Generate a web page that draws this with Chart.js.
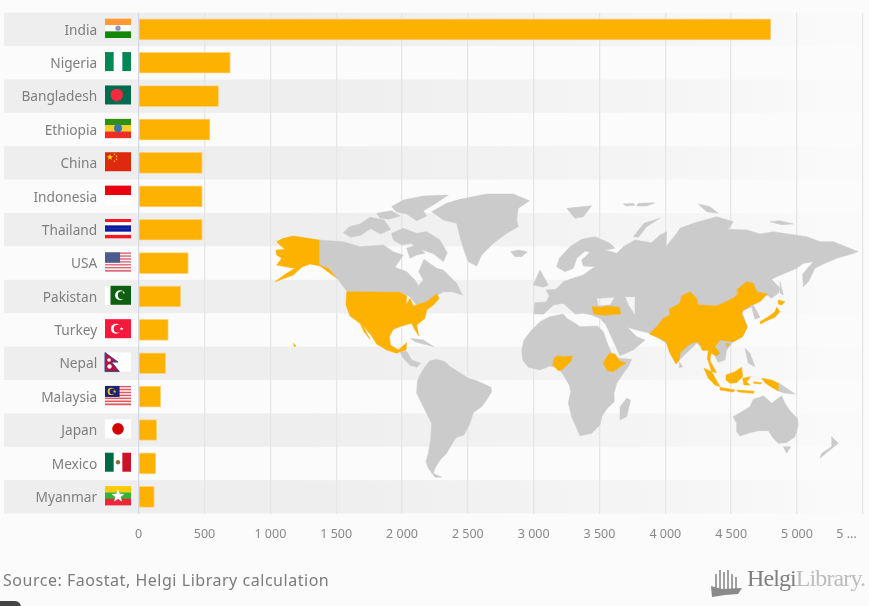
<!DOCTYPE html>
<html>
<head>
<meta charset="utf-8">
<title>Source: Faostat, Helgi Library calculation</title>
<script src="https://cdn.jsdelivr.net/npm/chart.js@4"></script>
<style>
  html, body { margin: 0; padding: 0; background: #fbfbfb; }
  #wrap { position: relative; width: 869px; height: 606px; overflow: hidden; filter: blur(0.45px); }
  #grafico { position: absolute; left: 0; top: 0; }
  #mapa { position: absolute; left: 0; top: 0; pointer-events: none; }
  #fuente { position: absolute; left: 3px; top: 569px; font: 16px "Noto Sans", sans-serif; color: #7b7b7b; letter-spacing: 0.53px; white-space: nowrap; }
  #logo { position: absolute; left: 747px; top: 565px; font: 24px "Liberation Serif", serif; color: #808080; letter-spacing: -0.9px; white-space: nowrap; }
  #logo span { color: #bdbdbd; }
  #esquina { position: absolute; left: 0; top: 601px; width: 21px; height: 8px; background: #444; border-top-right-radius: 6px; }
</style>
</head>
<body>
<div id="wrap">
  <canvas id="grafico" width="869" height="606"></canvas>

  <!-- mapa de fondo, decorativo: trazado a mano, no lleva datos -->
  <svg id="mapa" width="869" height="606" viewBox="0 0 869 606">
    <g transform="translate(260 190) scale(.3333)" stroke-width="1.5" stroke-linejoin="round">
      <g fill="#cbcbcb" stroke="#cbcbcb">
        <path d="M515 65L560 40 600 28 680 12 760 12 808 32 775 55 770 90 775 110 740 130 700 160 665 195 650 228 625 215 610 175 600 140 590 100 550 90Z"/>
        <path d="M395 50L430 30 490 18 565 15 520 45 490 62 500 78 470 92 440 72 410 66Z"/>
        <path d="M250 128L268 110 300 102 330 82 372 90 392 118 362 132 332 116 302 136 272 142Z"/>
        <path d="M350 70L395 62 420 78 385 88 360 84Z"/>
        <path d="M395 130L430 115 470 130 500 125 540 150 562 188 550 215 522 192 482 178 452 160 425 165 400 150Z"/>
        <path d="M440 175L470 165 495 190 470 195 450 205Z"/>
        <path d="M178 150L250 155 300 170 330 168 370 165 400 185 430 195 405 232 440 245 465 270 475 288 490 270 476 245 492 208 530 235 550 240 575 265 590 280 607 315 577 305 550 305 532 315 500 340 470 345 450 320 420 307 262 305 235 270 205 235 178 225Z"/>
        <path d="M420 486L440 484 455 510 482 520 470 532 450 526 430 505Z"/>
        <path d="M452 445L490 450 522 470 490 462 465 455Z"/>
        <path d="M472 575L480 555 495 530 510 512 530 508 555 515 570 530 600 548 625 565 650 572 693 592 695 605 680 630 665 650 640 668 630 700 612 735 590 742 580 755 560 790 540 810 525 835 520 850 545 862 525 862 505 835 498 815 505 790 512 750 515 700 490 650 470 610Z"/>
        <path d="M752 185L775 180 802 185 785 200 765 200Z"/>
      </g>
      <g fill="#fdb100" stroke="#fdb100">
        <path d="M50 155L70 145 100 138 178 150 178 225 205 235 230 264 210 250 180 228 150 222 125 232 100 255 60 270 45 275 80 250 105 235 65 228 50 225 65 205 50 195 48 180 75 178 60 165Z"/>
        <path d="M260 305L420 307 440 318 438 346 450 325 460 348 500 335 530 312 538 325 520 345 500 360 495 385 470 405 476 437 465 420 455 400 425 408 400 418 388 440 392 465 415 480 440 458 438 480 420 485 410 490 380 480 350 462 335 438 308 405 330 448 312 425 300 400 270 378 258 345Z"/>
        <path d="M100 460L108 468 103 470Z"/>
      </g>
    </g>
    <g transform="translate(520 190) scale(.3333)" stroke-width="1.5" stroke-linejoin="round">
      <g fill="#cbcbcb" stroke="#cbcbcb">
        <path d="M5 480L12 450 35 420 60 395 90 380 130 372 140 385 165 400 180 410 232 408 250 425 262 460 275 490 295 505 335 508 325 530 310 550 290 580 282 610 283 635 262 655 245 680 240 705 215 730 180 738 170 715 155 680 145 640 152 605 148 585 130 555 115 535 90 528 60 540 25 532 8 510Z"/>
        <path d="M320 625L332 630 320 680 300 690 300 650Z"/>
        <path fill-rule="evenodd" d="M42 372L44 338 78 336 88 318 78 300 108 298 130 275 150 268 190 255 210 240 225 230 190 228 185 210 210 187 195 183 170 205 160 235 135 245 110 230 118 205 150 170 185 148 225 140 270 160 285 175 255 180 290 190 310 170 345 150 395 158 420 135 440 125 438 170 470 130 480 115 520 100 590 80 640 95 625 118 680 120 720 132 760 125 790 130 860 140 900 155 940 155 1015 185 985 195 950 205 910 222 885 235 865 275 850 290 848 252 880 215 850 220 830 235 770 260 755 268 780 295 775 310 755 325 740 315 700 345 720 382 705 388 695 350 665 365 682 410 668 440 640 455 620 480 615 510 595 517 580 490 560 480 530 460 478 510 468 522 440 460 390 430 350 420 322 412 350 440 375 450 340 480 300 497 258 405 240 385 215 375 190 370 165 372 130 340 100 345 72 372ZM230 325L285 322 270 345 235 348ZM315 320L345 320 345 375 325 345Z"/>
        <path d="M40 285L60 240 85 285 70 292Z"/>
        <path d="M780 275L790 315 780 310Z"/>
        <path d="M140 55L215 47 190 80 165 85Z"/>
        <path d="M340 140L372 100 420 85 380 110 355 142Z"/>
        <path d="M310 42L340 40 345 46 318 48Z"/>
        <path d="M355 40L405 38 380 48 350 48Z"/>
        <path d="M535 42L570 50 595 70 560 65Z"/>
        <path d="M750 95L780 92 820 102 785 104Z"/>
        <path d="M478 515L488 530 478 533Z"/>
        <path d="M675 475L690 490 705 530 685 520Z"/>
        <path d="M775 578L800 595 825 612 795 610 775 603Z"/>
        <path d="M640 680L665 665 690 650 700 628 730 618 745 630 755 640 775 625 785 618 795 640 810 662 832 685 835 705 825 740 800 758 775 760 760 745 745 722 715 722 690 728 660 738 650 725 650 700Z"/>
        <path d="M790 770L812 770 800 790Z"/>
        <path d="M935 740L955 760 930 780 900 805 905 790 935 770Z"/>
      </g>
      <g fill="#fdb100" stroke="#fdb100">
        <path d="M388 432L415 405 430 385 450 375 448 358 480 340 485 318 510 305 530 325 535 345 590 348 640 325 655 310 650 300 680 275 700 280 710 305 742 312 720 335 695 345 670 360 665 372 682 410 668 440 640 455 600 450 585 470 600 490 590 497 573 490 570 512 590 548 575 545 562 505 565 480 548 482 535 455 520 458 505 465 480 490 478 510 468 522 450 490 438 455 420 445 400 437Z"/>
        <path d="M216 350L245 352 260 348 298 352 302 372 250 376 222 372Z"/>
        <path d="M770 352L780 365 765 382 740 392 722 402 720 395 745 380 765 365Z"/>
        <path d="M775 330L795 335 785 345 775 342Z"/>
        <path d="M98 525L102 505 112 497 132 500 157 498 152 515 138 528 125 540 114 542 105 530Z"/>
        <path d="M250 520L258 505 268 490 285 492 298 512 318 520 300 530 280 545 262 542Z"/>
        <path d="M552 535L575 545 600 590 585 585 565 565Z"/>
        <path d="M600 592L645 600 640 606 600 600Z"/>
        <path d="M650 600L703 604 700 610 655 606Z"/>
        <path d="M618 555L645 545 665 532 668 560 650 578 630 580 618 570Z"/>
        <path d="M668 565L692 560 680 575 690 585 672 585Z"/>
        <path d="M725 565L755 570 775 580 775 603 755 592 735 578Z"/>
        <path d="M700 575L725 578 722 582 702 580Z"/>
        <path d="M618 460L628 462 622 472Z"/>
      </g>
    </g>
    <!-- icono del logo -->
    <g stroke="#8a8a8a" stroke-width="1.6" fill="none">
      <path d="M716 574V589M720 570V589M724 572V589M728 570V589M732 574V589M736 577V589"/>
    </g>
    <path d="M711 586L722 589 742 588 738 594 725 595 712 597Z" fill="#8a8a8a"/>
  </svg>

  <div id="fuente">Source: Faostat, Helgi Library calculation</div>
  <div id="logo">Helgi<span>Library.</span></div>
  <div id="esquina"></div>
</div>

<script>
// Datos
const countries = ['India', 'Nigeria', 'Bangladesh', 'Ethiopia', 'China', 'Indonesia', 'Thailand', 'USA', 'Pakistan', 'Turkey', 'Nepal', 'Malaysia', 'Japan', 'Mexico', 'Myanmar'];
const values = [4802, 696, 607, 541, 483, 483, 483, 377, 319, 225, 205, 167, 137, 129, 119];
const xTickLabels = ['0', '500', '1 000', '1 500', '2 000', '2 500', '3 000', '3 500', '4 000', '4 500', '5 000', '5 ...          '];

// Helpers de dibujo para las banderas
function franjas(ctx, x, y, w, h, colores) {
    const alto = h / colores.length;
    colores.forEach((c, i) => {
        ctx.fillStyle = c;
        ctx.fillRect(x, y + i * alto, w, alto + 0.3);
    });
}
function circulo(ctx, cx, cy, r, color) {
    ctx.fillStyle = color;
    ctx.beginPath();
    ctx.arc(cx, cy, r, 0, Math.PI * 2);
    ctx.fill();
}
function estrella(ctx, cx, cy, r, color) {
    ctx.fillStyle = color;
    ctx.beginPath();
    for (let i = 0; i < 10; i++) {
        const rad = i % 2 ? r * 0.42 : r;
        const ang = -Math.PI / 2 + i * Math.PI / 5;
        ctx.lineTo(cx + Math.cos(ang) * rad, cy + Math.sin(ang) * rad);
    }
    ctx.closePath();
    ctx.fill();
}
function media(ctx, cx, cy, r, bg, color) {
    circulo(ctx, cx, cy, r, color);
    circulo(ctx, cx + r * 0.35, cy, r * 0.8, bg);
}

const pintaBandera = {
    India(c, x, y, w, h) {
        franjas(c, x, y, w, h, ['#ff9933', '#ffffff', '#138808']);
        circulo(c, x + w / 2, y + h / 2, 2.6, '#8d8fcf');
    },
    Nigeria(c, x, y, w, h) {
        c.fillStyle = '#ffffff'; c.fillRect(x, y, w, h);
        c.fillStyle = '#008753';
        c.fillRect(x, y, w / 3, h);
        c.fillRect(x + 2 * w / 3, y, w / 3, h);
    },
    Bangladesh(c, x, y, w, h) {
        c.fillStyle = '#006a4e'; c.fillRect(x, y, w, h);
        circulo(c, x + w * 0.45, y + h / 2, 6.2, '#f42a41');
    },
    Ethiopia(c, x, y, w, h) {
        franjas(c, x, y, w, h, ['#2f8f17', '#f7d02c', '#ee2d24']);
        circulo(c, x + w / 2, y + h / 2, 4, '#3a78a8');
    },
    China(c, x, y, w, h) {
        c.fillStyle = '#de2910'; c.fillRect(x, y, w, h);
        estrella(c, x + 5, y + 5, 3.2, '#ffde00');
        [[9.5, 2], [11.5, 4], [11.5, 7], [9.5, 9]].forEach(p => estrella(c, x + p[0], y + p[1], 1.1, '#ffde00'));
    },
    Indonesia(c, x, y, w, h) {
        franjas(c, x, y, w, h, ['#e8000f', '#ffffff']);
    },
    Thailand(c, x, y, w, h) {
        franjas(c, x, y, w, h, ['#ed1c24', '#ffffff', '#0c1c9c', '#0c1c9c', '#ffffff', '#ed1c24']);
    },
    USA(c, x, y, w, h) {
        const rayas = [];
        for (let i = 0; i < 13; i++) rayas.push(i % 2 ? '#fbf4f4' : '#d96a78');
        franjas(c, x, y, w, h, rayas);
        c.fillStyle = '#4b5c8f'; c.fillRect(x, y, w * 0.58, h * 0.54);
    },
    Pakistan(c, x, y, w, h) {
        c.fillStyle = '#ffffff'; c.fillRect(x, y, w, h);
        c.fillStyle = '#0f5f10'; c.fillRect(x + w / 4 - 1, y, w * 0.75 + 1, h);
        media(c, x + w * 0.58, y + h / 2, 5, '#0f5f10', '#ffffff');
        estrella(c, x + w * 0.72, y + h * 0.36, 1.4, '#ffffff');
    },
    Turkey(c, x, y, w, h) {
        c.fillStyle = '#f7183c'; c.fillRect(x, y, w, h);
        media(c, x + w * 0.42, y + h / 2, 5, '#f7183c', '#ffffff');
        estrella(c, x + w * 0.64, y + h / 2, 2, '#ffffff');
    },
    Nepal(c, x, y, w, h) {
        c.fillStyle = '#ffffff'; c.fillRect(x, y, w, h);
        c.fillStyle = '#b0123b';
        c.strokeStyle = '#3a4a90';
        c.lineWidth = 1;
        c.beginPath();
        c.moveTo(x, y);
        c.lineTo(x + w * 0.5, y + h * 0.5);
        c.lineTo(x + w * 0.25, y + h * 0.5);
        c.lineTo(x + w * 0.55, y + h);
        c.lineTo(x, y + h);
        c.closePath();
        c.fill();
        c.stroke();
        circulo(c, x + 4, y + 7.5, 1.8, '#ffffff');
        circulo(c, x + 4.5, y + 14, 2.2, '#ffffff');
    },
    Malaysia(c, x, y, w, h) {
        const rayas = [];
        for (let i = 0; i < 13; i++) rayas.push(i % 2 ? '#fbecec' : '#e2545e');
        franjas(c, x, y, w, h, rayas);
        c.fillStyle = '#1a2375'; c.fillRect(x, y, w * 0.56, h * 0.58);
        media(c, x + w * 0.24, y + h * 0.29, 3.6, '#1a2375', '#f5c518');
        estrella(c, x + w * 0.37, y + h * 0.29, 1.8, '#f5c518');
    },
    Japan(c, x, y, w, h) {
        c.fillStyle = '#ffffff'; c.fillRect(x, y, w, h);
        circulo(c, x + w / 2, y + h / 2, 5.8, '#d30000');
    },
    Mexico(c, x, y, w, h) {
        c.fillStyle = '#ffffff'; c.fillRect(x, y, w, h);
        c.fillStyle = '#006847'; c.fillRect(x, y, w / 3, h);
        c.fillStyle = '#ce1126'; c.fillRect(x + 2 * w / 3, y, w / 3, h);
        circulo(c, x + w / 2, y + h / 2, 2.2, '#8a6a3a');
    },
    Myanmar(c, x, y, w, h) {
        franjas(c, x, y, w, h, ['#fecb00', '#34b233', '#ea2839']);
        estrella(c, x + w / 2, y + h / 2 + 0.5, 6.8, '#ffffff');
    }
};

// Bandas alternas de fondo, se apagan hacia la derecha
const bandasPlugin = {
    id: 'bandas',
    beforeDraw(chart) {
        const { ctx, scales: { y } } = chart;
        const paso = y.getPixelForValue(1) - y.getPixelForValue(0);
        const grad = ctx.createLinearGradient(300, 0, 840, 0);
        grad.addColorStop(0, '#eeeeee');
        grad.addColorStop(0.4, '#f2f2f2');
        grad.addColorStop(0.75, '#f6f6f6');
        grad.addColorStop(1, '#fafafa');
        ctx.save();
        ctx.fillStyle = grad;
        countries.forEach((c, i) => {
            if (i % 2 === 0) ctx.fillRect(4, y.getPixelForValue(i) - paso / 2, 859, paso);
        });
        ctx.restore();
    }
};

// Banderas junto a cada etiqueta
const banderasPlugin = {
    id: 'banderas',
    afterDatasetsDraw(chart) {
        const { ctx, scales: { y } } = chart;
        countries.forEach((c, i) => {
            ctx.save();
            pintaBandera[c](ctx, 105, y.getPixelForValue(i) - 10.7, 26, 19);
            ctx.restore();
        });
    }
};

const ctx = document.getElementById('grafico').getContext('2d');
new Chart(ctx, {
    type: 'bar',
    data: {
        labels: countries,
        datasets: [{
            data: values,
            backgroundColor: '#fdb100',
            borderColor: '#fdd27a',
            borderWidth: 1,
            barThickness: 21,
            base: 0
        }]
    },
    options: {
        indexAxis: 'y',
        responsive: false,
        animation: false,
        layout: { autoPadding: false, padding: { top: 12.7, right: 6.2, left: 0, bottom: 0 } },
        plugins: { legend: { display: false }, title: { display: false }, tooltip: { enabled: false } },
        scales: {
            x: {
                min: 0, max: 5500,
                border: { display: false },
                grid: {
                    drawTicks: false,
                    lineWidth: 1.3,
                    color: c => c.tick && c.tick.value === 0 ? '#cddaf0' : '#e6e6e6'
                },
                ticks: {
                    stepSize: 500,
                    autoSkip: false,
                    maxRotation: 0,
                    padding: 13,
                    color: '#888888',
                    font: { family: 'Noto Sans', size: 12.5 },
                    callback: (v, i) => xTickLabels[i]
                },
                afterFit(s) { s.height = 92.5; s.paddingLeft = 0; s.paddingRight = 0; }
            },
            y: {
                border: { display: false },
                grid: { display: false, drawTicks: false },
                ticks: {
                    padding: 41.5,
                    labelOffset: 1.3,
                    color: '#7f7f7f',
                    font: { family: 'Noto Sans', size: 13.7 }
                },
                afterFit(s) { s.width = 138.7; s.paddingTop = 0; s.paddingBottom = 0; }
            }
        }
    },
    plugins: [bandasPlugin, banderasPlugin]
});
</script>
</body>
</html>
